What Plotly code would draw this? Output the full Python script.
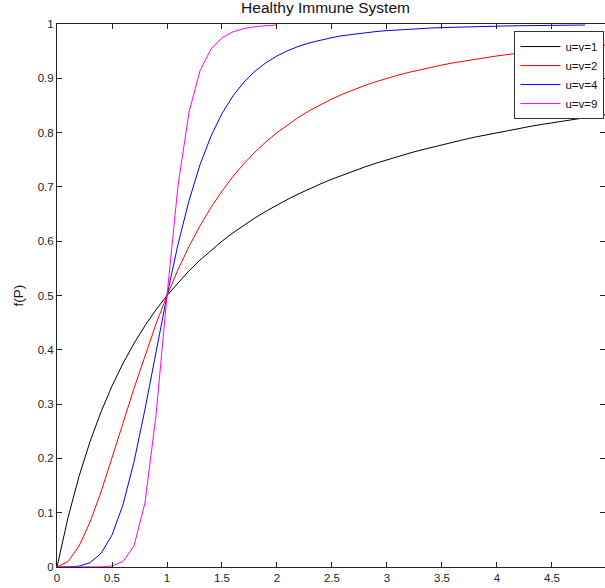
import plotly.graph_objects as go

# P values (step 0.1)
P = [0.0, 0.1, 0.2, 0.3, 0.4, 0.5, 0.6, 0.7, 0.8, 0.9,
     1.0, 1.1, 1.2, 1.3, 1.4, 1.5, 1.6, 1.7, 1.8, 1.9,
     2.0, 2.1, 2.2, 2.3, 2.4, 2.5, 2.6, 2.7, 2.8, 2.9,
     3.0, 3.1, 3.2, 3.3, 3.4, 3.5, 3.6, 3.7, 3.8, 3.9,
     4.0, 4.1, 4.2, 4.3, 4.4, 4.5, 4.6, 4.7, 4.8, 4.9, 5.0]

f_u1 = [0.0, 0.0909, 0.1667, 0.2308, 0.2857, 0.3333, 0.375, 0.4118, 0.4444, 0.4737,
        0.5, 0.5238, 0.5455, 0.5652, 0.5833, 0.6, 0.6154, 0.6296, 0.6429, 0.6552,
        0.6667, 0.6774, 0.6875, 0.6970, 0.7059, 0.7143, 0.7222, 0.7297, 0.7368, 0.7436,
        0.75, 0.7561, 0.7619, 0.7674, 0.7727, 0.7778, 0.7826, 0.7872, 0.7917, 0.7959,
        0.8, 0.8039, 0.8077, 0.8113, 0.8148, 0.8182, 0.8214, 0.8246, 0.8276, 0.8305, 0.8333]

f_u2 = [0.0, 0.0099, 0.0385, 0.0826, 0.1379, 0.2, 0.2647, 0.3289, 0.3902, 0.4475,
        0.5, 0.5475, 0.5902, 0.6283, 0.6622, 0.6923, 0.7191, 0.7429, 0.7642, 0.7831,
        0.8, 0.8152, 0.8288, 0.8410, 0.8521, 0.8621, 0.8711, 0.8794, 0.8869, 0.8937,
        0.9, 0.9057, 0.9110, 0.9159, 0.9204, 0.9245, 0.9284, 0.9319, 0.9352, 0.9383,
        0.9412, 0.9439, 0.9464, 0.9487, 0.9509, 0.9529, 0.9549, 0.9567, 0.9584, 0.9600, 0.9615]

f_u4 = [0.0, 0.0001, 0.0016, 0.0080, 0.0250, 0.0588, 0.1147, 0.1936, 0.2906, 0.3962,
        0.5, 0.5942, 0.6746, 0.7407, 0.7935, 0.8351, 0.8676, 0.8931, 0.9130, 0.9287,
        0.9412, 0.9511, 0.9591, 0.9655, 0.9707, 0.9750, 0.9786, 0.9815, 0.9840, 0.9861,
        0.9878, 0.9893, 0.9906, 0.9916, 0.9926, 0.9934, 0.9941, 0.9947, 0.9952, 0.9957,
        0.9961, 0.9965, 0.9968, 0.9971, 0.9973, 0.9976, 0.9978, 0.9980, 0.9981]

f_u9 = [0.0, 0.0, 0.0, 0.00002, 0.0003, 0.0019, 0.0100, 0.0388, 0.1183, 0.2793,
        0.5, 0.7022, 0.8377, 0.9138, 0.9538, 0.9746, 0.9856, 0.9916, 0.9950, 0.9969,
        0.9981]

series_names = ["u=v=1", "u=v=2", "u=v=4", "u=v=9"]
series_vals = [f_u1, f_u2, f_u4, f_u9]
series_colors = ["#000000", "#ff0000", "#0000ff", "#ff00ff"]

x_ticks = [0, 0.5, 1, 1.5, 2, 2.5, 3, 3.5, 4, 4.5]
x_tick_labels = ["0", "0.5", "1", "1.5", "2", "2.5", "3", "3.5", "4", "4.5"]
y_ticks = [0, 0.1, 0.2, 0.3, 0.4, 0.5, 0.6, 0.7, 0.8, 0.9, 1]
y_tick_labels = ["0", "0.1", "0.2", "0.3", "0.4", "0.5", "0.6", "0.7", "0.8", "0.9", "1"]

FONT = "Liberation Sans, Arial, Helvetica, sans-serif"

fig = go.Figure()
for name, vals, col in zip(series_names, series_vals, series_colors):
    fig.add_trace(go.Scatter(
        x=P[:len(vals)], y=vals, mode="lines", name=name,
        line=dict(color=col, width=1), cliponaxis=True,
    ))

axis_common = dict(
    showgrid=False, zeroline=False, showline=True, linecolor="#222222", linewidth=1,
    mirror="ticks", ticks="inside", ticklen=5, tickcolor="#222222", tickwidth=1,
    tickfont=dict(family=FONT, size=11.5, color="#222222"),
)

fig.update_layout(
    width=605, height=588,
    margin=dict(l=57, r=0, t=24, b=21, pad=0),
    paper_bgcolor="white", plot_bgcolor="white",
    font=dict(family=FONT, size=11, color="#222222"),
    title=dict(text="Healthy Immune System", x=0.49, xref="paper", xanchor="center",
               y=1 - 2 / 588, yref="container", yanchor="top",
               font=dict(family=FONT, size=15.5, color="#111111")),
    xaxis=dict(range=[0, 4.982], tickvals=x_ticks, ticktext=x_tick_labels, **axis_common),
    yaxis=dict(range=[0, 1], tickvals=y_ticks, ticktext=y_tick_labels,
               title=dict(text="f(P)", font=dict(family=FONT, size=13.5, color="#111111"), standoff=10),
               **axis_common),
    legend=dict(x=0.999, y=0.987, xanchor="right", yanchor="top",
                bgcolor="white", bordercolor="#333333", borderwidth=1,
                font=dict(family=FONT, size=11.5, color="#111111"),
                tracegroupgap=0, itemwidth=40),
    showlegend=True,
)

# remove the page's default body margin so the figure sits at the window's corner
fig.write_html(
    "out.html",
    config={"displayModeBar": False},
    post_script="document.body.style.margin='0';document.documentElement.style.overflow='hidden';",
)
